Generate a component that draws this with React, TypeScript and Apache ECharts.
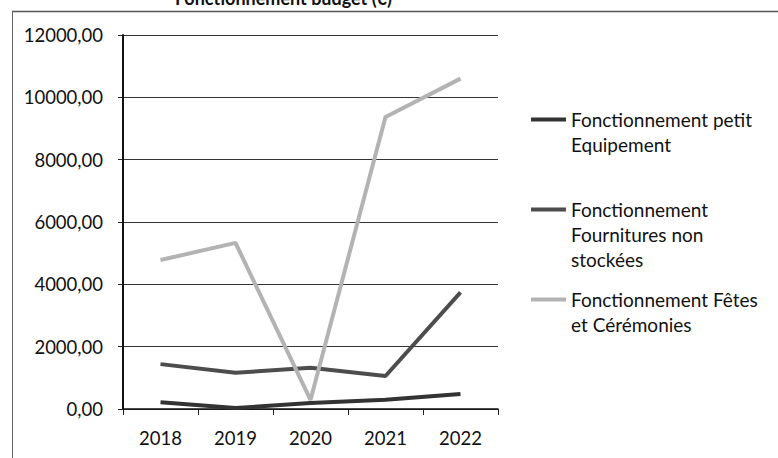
import React, { useEffect, useRef } from "react";
import * as echarts from "echarts";

const years = ["2018", "2019", "2020", "2021", "2022"];
const petitEquipement = [220, 30, 190, 300, 480];
const fournitures = [1440, 1160, 1320, 1060, 3740];
const fetes = [4780, 5330, 290, 9370, 10600];
const seriesNames = [
  "Fonctionnement petit Equipement",
  "Fonctionnement Fournitures non stockées",
  "Fonctionnement Fêtes et Cérémonies",
];
const legendLabels: Record<string, string> = {
  "Fonctionnement petit Equipement": "\nFonctionnement petit\nEquipement",
  "Fonctionnement Fournitures non stockées": "\n\nFonctionnement\nFournitures non\nstockées",
  "Fonctionnement Fêtes et Cérémonies": "\nFonctionnement Fêtes\net Cérémonies",
};
const titleText = "Fonctionnement budget (€)";

const FONT = "Lato";

export default function App() {
  const ref = useRef<HTMLDivElement>(null);
  useEffect(() => {
    if (!ref.current) return;
    const chart = echarts.init(ref.current, undefined, { renderer: "svg" });
    chart.setOption({
      animation: false,
      backgroundColor: "#ffffff",
      textStyle: { fontFamily: FONT },
      graphic: [
        { type: "line", shape: { x1: 12, y1: 11.5, x2: 778, y2: 11.5 }, style: { stroke: "#555", lineWidth: 1.5 } },
        { type: "line", shape: { x1: 12.5, y1: 11, x2: 12.5, y2: 458 }, style: { stroke: "#666", lineWidth: 1 } },
        {
          type: "text",
          x: 392,
          y: -2,
          style: { text: titleText, align: "right", verticalAlign: "middle", font: `bold 18px ${FONT}`, fill: "#111" },
        },
      ],
      grid: { left: 123, right: 280, top: 35, bottom: 49, containLabel: false },
      legend: {
        orient: "vertical",
        left: 531,
        top: 82,
        padding: 0,
        icon: "rect",
        itemWidth: 35,
        itemHeight: 4,
        itemGap: -10,
        data: seriesNames,
        formatter: (name: string) => legendLabels[name],
        textStyle: { fontFamily: FONT, fontSize: 19, color: "#111", lineHeight: 25 },
      },
      xAxis: {
        type: "category",
        data: years,
        boundaryGap: true,
        axisLine: { lineStyle: { color: "#111", width: 1.5 } },
        axisTick: { show: true, length: 6, lineStyle: { color: "#222" } },
        axisLabel: { fontFamily: FONT, fontSize: 18.5, color: "#111", margin: 19 },
        splitLine: { show: false },
      },
      yAxis: {
        type: "value",
        min: 0,
        max: 12000,
        interval: 2000,
        axisLine: { show: true, lineStyle: { color: "#111", width: 2 } },
        axisTick: { show: true, length: 5, lineStyle: { color: "#222" } },
        axisLabel: {
          fontFamily: FONT,
          fontSize: 18.5,
          color: "#111",
          margin: 20,
          formatter: (v: number) => v.toFixed(2).replace(".", ","),
        },
        splitLine: { show: true, lineStyle: { color: "#333", width: 1 } },
      },
      series: [
        {
          name: seriesNames[0],
          type: "line",
          data: petitEquipement,
          showSymbol: false,
          symbol: "none",
          lineStyle: { color: "#333", width: 4 },
          itemStyle: { color: "#333" },
        },
        {
          name: seriesNames[1],
          type: "line",
          data: fournitures,
          showSymbol: false,
          symbol: "none",
          lineStyle: { color: "#4d4d4d", width: 4 },
          itemStyle: { color: "#4d4d4d" },
        },
        {
          name: seriesNames[2],
          type: "line",
          data: fetes,
          showSymbol: false,
          symbol: "none",
          lineStyle: { color: "#b3b3b3", width: 4 },
          itemStyle: { color: "#b3b3b3" },
        },
      ],
    });
    return () => chart.dispose();
  }, []);
  return (
    <div
      ref={ref}
      style={{ position: "fixed", left: 0, top: 0, width: 778, height: 458, background: "#fff" }}
    />
  );
}
